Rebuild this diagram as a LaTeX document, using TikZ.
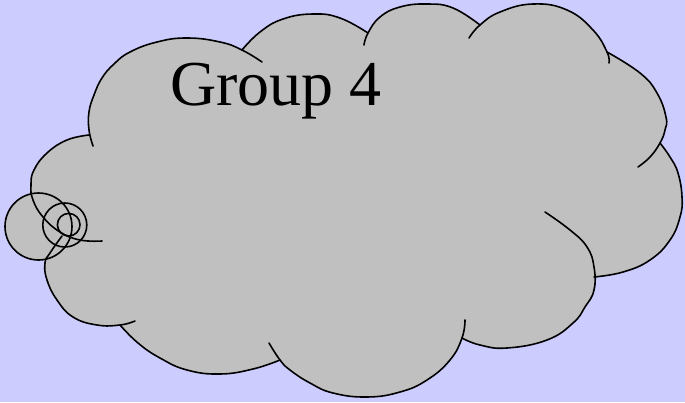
\documentclass[tikz,border=0pt]{standalone}
\usepackage{xcolor}
\usepackage{fontspec}
\setmainfont{Liberation Serif}
\usepackage{tikz}

\begin{document}
\begin{tikzpicture}[x=1pt, y=-1pt,
  contorno/.style={draw=black, line width=1.6pt, line cap=round},
  bolha/.style={draw=black, line width=1.6pt}]
% --- NUVEM COM BOLHAS DE PENSAMENTO ---
\definecolor{fundo}{HTML}{CCCCFF}
\definecolor{nuvem}{HTML}{C0C0C0}

% LAYER 1: Fundo
\fill[fundo] (0,0) rectangle (685,402);
\useasboundingbox (0,0) rectangle (685,402);

% LAYER 2: Preenchimento da nuvem
\fill[nuvem] plot[smooth, tension=0.75] coordinates {(60,232) (43,217) (33,200) (31,185) (34,170) (47,153) (67,140) (89,135)}
  -- plot[smooth, tension=0.75] coordinates {(89,135) (89,130) (89,112) (94,95) (102,78) (114,64) (130,52) (157,42) (187,38) (220,42) (242,50)}
  -- plot[smooth, tension=0.75] coordinates {(242,50) (260,32) (283,19) (313,14) (340,18) (368,33)}
  -- plot[smooth, tension=0.75] coordinates {(368,33) (380,17) (400,7) (427,4) (453,8) (480,25)}
  -- plot[smooth, tension=0.75] coordinates {(480,25) (500,12) (533,4) (567,10) (593,30) (607,52)}
  -- plot[smooth, tension=0.75] coordinates {(607,52) (640,73) (657,93) (666,117) (660,143)}
  -- plot[smooth, tension=0.75] coordinates {(660,143) (670,157) (678,173) (682,197) (680,217) (670,240) (650,260) (623,272) (594,277)}
  -- plot[smooth, tension=0.75] coordinates {(594,277) (594,290) (585,307) (573,323) (547,340) (507,348) (480,345) (462,338)}
  -- plot[smooth, tension=0.75] coordinates {(462,338) (450,360) (427,380) (400,392) (367,397) (333,393) (310,383) (290,370) (280,360)}
  -- plot[smooth, tension=0.75] coordinates {(280,360) (253,369) (220,374) (187,370) (160,358) (138,343) (120,325)}
  -- plot[smooth, tension=0.75] coordinates {(120,325) (97,325) (73,317) (57,300) (47,280) (45,263) (50,253) (60,232)}
  -- cycle;
\fill[nuvem] (38.5,226.5) circle[radius=33.5pt];
\fill[nuvem] (64.8,225) circle[radius=22pt];
\fill[nuvem] (68.7,224.7) circle[radius=11.3pt];

% LAYER 3: Contornos das ondas
\draw[contorno] plot[smooth, tension=0.75] coordinates {(102,241) (80,240) (60,232) (43,217) (33,200) (31,185) (34,170) (47,153) (67,140) (89,135)};
\draw[contorno] plot[smooth, tension=0.75] coordinates {(93,146) (89,130) (89,112) (94,95) (102,78) (114,64) (130,52) (157,42) (187,38) (220,42) (242,50) (262,62)};
\draw[contorno] plot[smooth, tension=0.75] coordinates {(242,50) (260,32) (283,19) (313,14) (340,18) (368,33)};
\draw[contorno] plot[smooth, tension=0.75] coordinates {(364,45) (368,33) (380,17) (400,7) (427,4) (453,8) (480,25)};
\draw[contorno] plot[smooth, tension=0.75] coordinates {(469,38) (480,25) (500,12) (533,4) (567,10) (593,30) (607,52) (609,63)};
\draw[contorno] plot[smooth, tension=0.75] coordinates {(607,52) (640,73) (657,93) (666,117) (665,130) (660,143) (650,157) (638,167)};
\draw[contorno] plot[smooth, tension=0.75] coordinates {(660,143) (670,157) (678,173) (682,197) (680,217) (670,240) (650,260) (623,272) (594,277)};
\draw[contorno] plot[smooth, tension=0.75] coordinates {(545,212) (570,230) (587,247) (594,267) (594,290) (585,307) (573,323) (547,340) (507,348) (480,345) (462,338)};
\draw[contorno] plot[smooth, tension=0.75] coordinates {(465,320) (462,338) (450,360) (427,380) (400,392) (367,397) (333,393) (310,383) (290,370) (280,360) (269,343)};
\draw[contorno] plot[smooth, tension=0.75] coordinates {(280,360) (253,369) (220,374) (187,370) (160,358) (138,343) (120,325)};
\draw[contorno] plot[smooth, tension=0.75] coordinates {(135,321) (120,325) (97,325) (73,317) (57,300) (47,280) (45,263) (50,253) (62,236)};

% LAYER 4: Bolhas
\draw[bolha] (38.5,226.5) circle[radius=33.5pt];
\draw[bolha] (64.8,225) circle[radius=22pt];
\draw[bolha] (68.7,224.7) circle[radius=11.3pt];

% LAYER 5: Texto
\node[anchor=base west, inner sep=0pt, font=\fontsize{64}{70}\selectfont] (titulo) at (170,105) {Group 4};
\end{tikzpicture}
\end{document}
